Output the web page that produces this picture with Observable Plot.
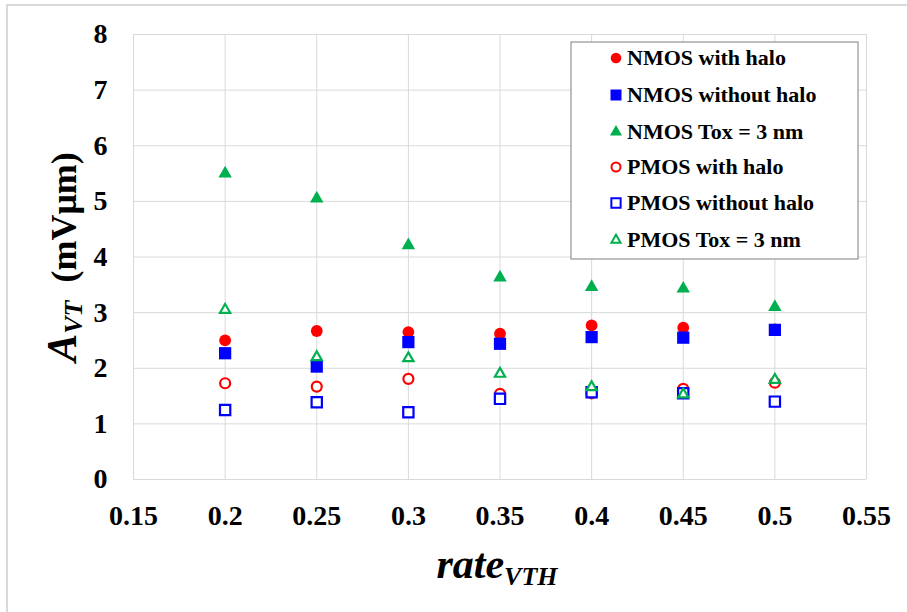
<!DOCTYPE html>
<html>
<head>
<meta charset="utf-8">
<script src="https://cdn.jsdelivr.net/npm/d3@7"></script>
<script src="https://cdn.jsdelivr.net/npm/@observablehq/plot@0.6"></script>
<style>
  html, body { margin: 0; padding: 0; background: #fff; overflow: hidden; }
  #wrap { position: relative; width: 907px; height: 612px; }
  #edge { position: absolute; left: 6px; top: 4px; width: 1000px; height: 1000px;
          border: 2px solid #d9d9d9; box-sizing: border-box; }
  #chart { position: absolute; left: 0; top: 0; }
  svg text { font-family: "Liberation Serif", "DejaVu Serif", serif; }
</style>
</head>
<body>
<div id="wrap"><div id="edge"></div><div id="chart"></div></div>
<script>
// threshold-voltage rate values on the x axis
const rateVTH = [0.2, 0.25, 0.3, 0.35, 0.4, 0.45, 0.5];

// A_VT (mV·µm) for each device variant
const nmosHalo    = [2.50, 2.67, 2.65, 2.62, 2.77, 2.73, 2.70];
const nmosNoHalo  = [2.27, 2.03, 2.47, 2.44, 2.56, 2.55, 2.69];
const nmosTox3    = [5.50, 5.05, 4.21, 3.63, 3.46, 3.43, 3.10];
const pmosHalo    = [1.73, 1.67, 1.81, 1.54, 1.55, 1.63, 1.74];
const pmosNoHalo  = [1.25, 1.39, 1.21, 1.45, 1.57, 1.55, 1.40];
const pmosTox3    = [3.05, 2.20, 2.18, 1.90, 1.66, 1.53, 1.79];

const xTicks = [0.15, 0.2, 0.25, 0.3, 0.35, 0.4, 0.45, 0.5, 0.55];
const yTicks = [0, 1, 2, 3, 4, 5, 6, 7, 8];

const seriesNames = [
  "NMOS with halo", "NMOS without halo", "NMOS Tox = 3 nm",
  "PMOS with halo", "PMOS without halo", "PMOS Tox = 3 nm"
];

const RED = "#ff0000", BLUE = "#0000ff", GREEN = "#00b050";

// marker style per series: symbol, colour, filled or outlined, radius
const styles = [
  {symbol: "circle",   color: RED,   filled: true,  r: 5.9},
  {symbol: "square",   color: BLUE,  filled: true,  r: 6.9},
  {symbol: "triangle", color: GREEN, filled: true,  r: 5.0},
  {symbol: "circle",   color: RED,   filled: false, r: 5.0},
  {symbol: "square",   color: BLUE,  filled: false, r: 5.8},
  {symbol: "triangle", color: GREEN, filled: false, r: 3.8}
];
const seriesValues = [nmosHalo, nmosNoHalo, nmosTox3, pmosHalo, pmosNoHalo, pmosTox3];

const rows = seriesValues.map(vals => rateVTH.map((x, i) => ({x, y: vals[i]})));

const dotMark = (data, s) => Plot.dot(data, {
  x: "x", y: "y", symbol: () => s.symbol, r: s.r,
  fill: s.filled ? s.color : "white",
  stroke: s.filled ? "none" : s.color,
  strokeWidth: s.filled ? 0 : 2.2
});

const plot = Plot.plot({
  width: 907,
  height: 612,
  marginLeft: 133,
  marginRight: 41,
  marginTop: 34,
  marginBottom: 133,
  style: {fontFamily: "Liberation Serif, serif", background: "transparent"},
  symbol: {type: "identity"},
  x: {domain: [0.15, 0.55], ticks: xTicks, tickFormat: d => String(d), tickSize: 0, tickPadding: 26, label: null},
  y: {domain: [0, 8], ticks: yTicks, tickFormat: d => String(d), tickSize: 0, tickPadding: 26, label: null},
  marks: [
    Plot.gridX(xTicks, {stroke: "#d9d9d9", strokeOpacity: 1, strokeWidth: 1}),
    Plot.gridY(yTicks, {stroke: "#d9d9d9", strokeOpacity: 1, strokeWidth: 1}),
    Plot.axisX({ticks: xTicks, tickFormat: d => String(d), tickSize: 0, tickPadding: 26, fontSize: 28, fontWeight: "bold", label: null}),
    Plot.axisY({ticks: yTicks, tickFormat: d => String(d), tickSize: 0, tickPadding: 26, fontSize: 28, fontWeight: "bold", label: null}),
    ...rows.map((d, k) => dotMark(d, styles[k]))
  ]
});

document.getElementById("chart").appendChild(plot);

const svg = d3.select(plot);
svg.selectAll("[aria-label='x-axis tick label'] text, [aria-label='y-axis tick label'] text")
  .attr("fill", "#000");

// y axis title: A_VT (mVµm)
const yTitle = svg.append("text")
  .attr("transform", "translate(76,257) rotate(-90)")
  .attr("text-anchor", "middle")
  .attr("font-weight", "bold")
  .attr("fill", "#000")
  .style("white-space", "pre");
yTitle.append("tspan").attr("font-size", 42).attr("font-style", "italic").text("A");
yTitle.append("tspan").attr("font-size", 26).attr("font-style", "italic").attr("dy", 6).text("VT");
yTitle.append("tspan").attr("font-size", 36).attr("dy", -6).text("  (mVμm)");

// x axis title: rate_VTH
const xTitle = svg.append("text")
  .attr("x", 497).attr("y", 578)
  .attr("text-anchor", "middle")
  .attr("font-weight", "bold")
  .attr("font-style", "italic")
  .attr("fill", "#000");
xTitle.append("tspan").attr("font-size", 42).text("rate");
xTitle.append("tspan").attr("font-size", 26).attr("dy", 7).text("VTH");

// legend box
const lg = svg.append("g").attr("transform", "translate(571,42)");
lg.append("rect").attr("x", 0).attr("y", 0).attr("width", 287).attr("height", 217)
  .attr("fill", "white").attr("stroke", "#7f7f7f").attr("stroke-width", 1);
const symbolFor = {circle: d3.symbolCircle, square: d3.symbolSquare, triangle: d3.symbolTriangle};
const itemY = [16, 53, 90, 125, 161, 198];
seriesNames.forEach((name, k) => {
  const s = styles[k];
  const r = s.r * 0.9;
  lg.append("path")
    .attr("transform", `translate(45,${itemY[k]})`)
    .attr("d", d3.symbol(symbolFor[s.symbol], r * r * Math.PI)())
    .attr("fill", s.filled ? s.color : "white")
    .attr("stroke", s.filled ? "none" : s.color)
    .attr("stroke-width", s.filled ? 0 : 2);
  lg.append("text")
    .attr("x", 56).attr("y", itemY[k] + 7)
    .attr("text-anchor", "start")
    .attr("font-size", 22).attr("font-weight", "bold").attr("fill", "#000")
    .text(name);
});
</script>
</body>
</html>
